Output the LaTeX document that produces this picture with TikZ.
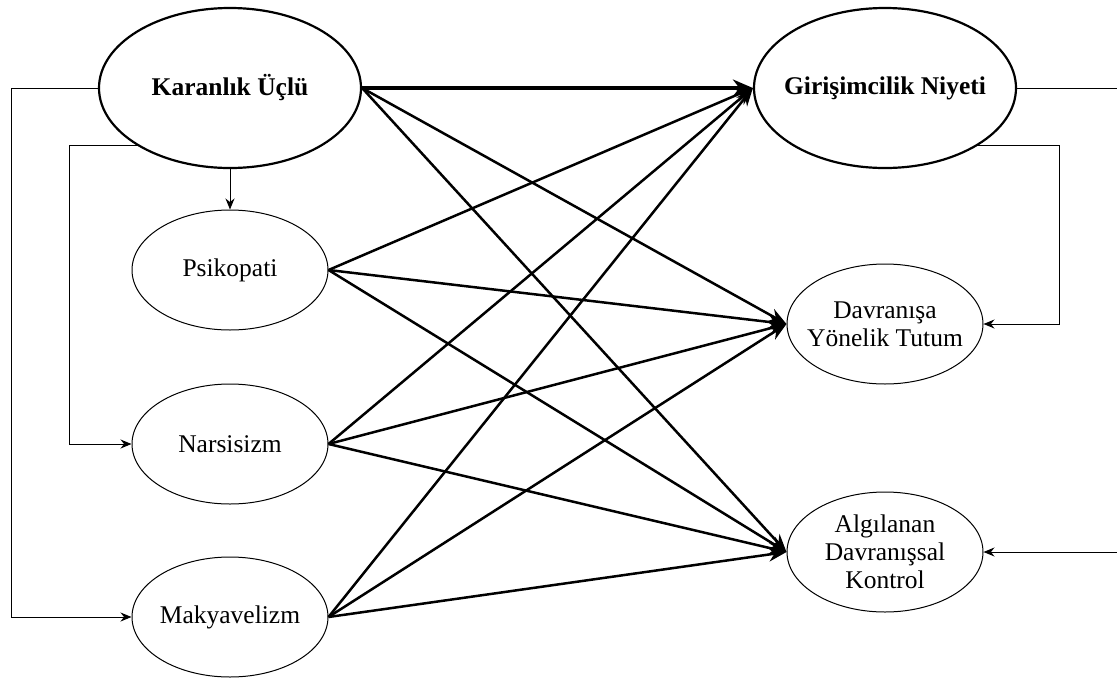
\documentclass[tikz,border=0pt]{standalone}
\usepackage{fontspec}
\setmainfont{Liberation Serif}
\usetikzlibrary{shapes.geometric,arrows.meta}
\begin{document}
\begin{tikzpicture}[x=1pt,y=-1pt,
  big/.style={ellipse,draw,line width=2.2pt,minimum width=262pt,minimum height=160pt,inner xsep=-40pt,inner ysep=-10pt,align=center,font=\fontsize{25.5}{28}\selectfont\bfseries},
  small/.style={ellipse,draw,line width=1pt,minimum width=196pt,minimum height=120pt,inner xsep=-30pt,inner ysep=-10pt,align=center,font=\fontsize{25.5}{28}\selectfont},
  diag/.style={line width=2.5pt,-{Stealth[length=18pt,width=14pt]}},
  thickdiag/.style={line width=3.8pt,-{Stealth[length=20pt,width=17pt]}},
  conn/.style={line width=1pt,-{Stealth[length=11pt,width=9pt]}},
  plain/.style={line width=1pt}]
\useasboundingbox (0,0) rectangle (1117,678);
\node[big] (K) at (230,88) {Karanlık Üçlü};
\node[big] (G) at (885,88) {Girişimcilik Niyeti};
\node[small] (P) at (230,270) {Psikopati};
\node[small] (N) at (230,444) {Narsisizm};
\node[small] (M) at (230,617) {Makyavelizm};
\node[small] (D) at (885,324) {Davranışa\\Yönelik Tutum};
\node[small] (A) at (885,552) {Algılanan\\Davranışsal\\Kontrol};
\coordinate (gout) at (1117,88);
\coordinate (ain) at (1117,552);
% diagonal arrows
\draw[thickdiag] (K.east) -- (G.west);
\draw[diag] (K.east) -- (D.west);
\draw[diag] (K.east) -- (A.west);
\foreach \s in {P,N,M}{
  \draw[diag] (\s.east) -- (G.west);
  \draw[diag] (\s.east) -- (D.west);
  \draw[diag] (\s.east) -- (A.west);
}
% orthogonal connectors
\draw[conn] (K.south) -- (P.north);
\draw[conn] (K.west) -| ([xshift=-120pt]M.west) -- (M.west);
\draw[conn] (K.212.5) -| ([xshift=-62pt]N.west) -- (N.west);
\draw[conn] (G.-32.5) -| ([xshift=76pt]D.east) -- (D.east);
\draw[plain] (G.east) -- (gout);
\draw[conn] (ain) -- (A.east);
\end{tikzpicture}
\end{document}
